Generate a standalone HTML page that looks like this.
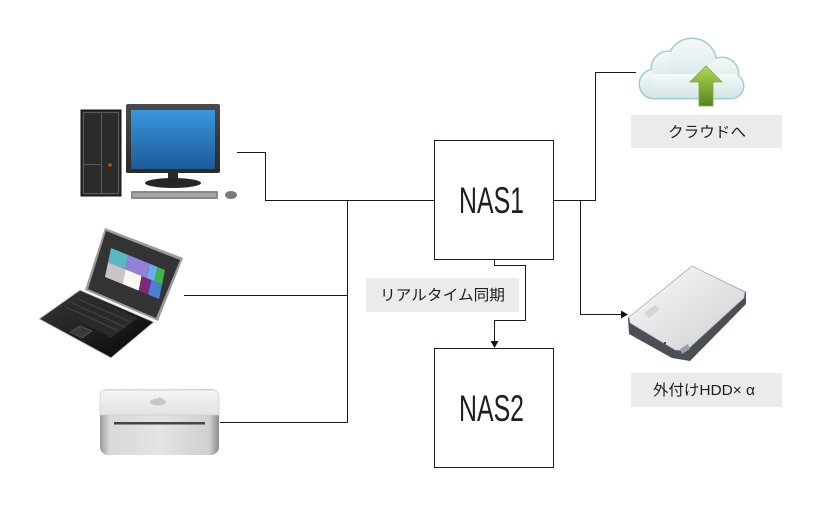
<!DOCTYPE html>
<html><head><meta charset="utf-8"><style>
html,body{margin:0;padding:0;background:#fff;}
svg{display:block;}
text{font-family:"Liberation Sans","Noto Sans CJK JP",sans-serif;fill:#1e1e1e;}
</style></head><body>
<svg width="821" height="508" viewBox="0 0 821 508" xmlns="http://www.w3.org/2000/svg">
<defs>
<linearGradient id="scr" x1="0" y1="0" x2="0" y2="1"><stop offset="0" stop-color="#3a95dc"/><stop offset="1" stop-color="#1c5c98"/></linearGradient>
<linearGradient id="mon" x1="0" y1="0" x2="0" y2="1"><stop offset="0" stop-color="#4a4a4a"/><stop offset="1" stop-color="#2a2a2a"/></linearGradient>
<linearGradient id="lapbase" x1="0" y1="0" x2="1" y2="1"><stop offset="0" stop-color="#3a3a3a"/><stop offset="1" stop-color="#050505"/></linearGradient>
<linearGradient id="mactop" x1="0" y1="0" x2="0" y2="1"><stop offset="0" stop-color="#f6f6f6"/><stop offset="1" stop-color="#e2e2e2"/></linearGradient>
<linearGradient id="macfront" x1="0" y1="0" x2="1" y2="0"><stop offset="0" stop-color="#9a9a9a"/><stop offset="0.08" stop-color="#d8d8d8"/><stop offset="0.5" stop-color="#e4e4e4"/><stop offset="0.92" stop-color="#d0d0d0"/><stop offset="1" stop-color="#8a8a8a"/></linearGradient>
<linearGradient id="cloud" x1="0" y1="0" x2="0" y2="1"><stop offset="0" stop-color="#f5f9f9"/><stop offset="1" stop-color="#d3e5e7"/></linearGradient>
<linearGradient id="arr" x1="0" y1="0" x2="0" y2="1"><stop offset="0" stop-color="#b2d855"/><stop offset="1" stop-color="#55861c"/></linearGradient>
<linearGradient id="hddtop" x1="0" y1="0" x2="1" y2="1"><stop offset="0" stop-color="#fafafa"/><stop offset="1" stop-color="#cfcfd2"/></linearGradient>
</defs>

<!-- connectors -->
<g fill="none" stroke="#1a1a1a" stroke-width="1">
<path d="M237 152.5H265.5V200.5H434"/>
<path d="M347.5 200.5V422.5"/>
<path d="M184 295.5H347.5"/>
<path d="M220 422.5H347.5"/>
<path d="M554 200.5H595.5V72.5H636"/>
<path d="M580.5 200.5V314.5H622"/>
<path d="M494.5 260V265.5H525.5V320.5H494.5V341"/>
</g>
<polygon points="628,314.5 621,310.5 621,318.5" fill="#111"/>
<polygon points="494.5,348 490.5,341 498.5,341" fill="#111"/>

<!-- NAS boxes -->
<rect x="434.5" y="140.5" width="119" height="119" fill="#fff" stroke="#1b1b40" stroke-width="1"/>
<rect x="434.5" y="348.5" width="119" height="119" fill="#fff" stroke="#1b1b40" stroke-width="1"/>
<text x="459" y="213" font-size="37" textLength="65" lengthAdjust="spacingAndGlyphs">NAS1</text>
<text x="459" y="421" font-size="37" textLength="65" lengthAdjust="spacingAndGlyphs">NAS2</text>

<!-- labels -->
<rect x="366" y="278" width="153" height="34" fill="#ebebeb"/>
<text x="380" y="300" font-size="15" textLength="125" lengthAdjust="spacingAndGlyphs">リアルタイム同期</text>
<rect x="631" y="115" width="151" height="33" fill="#ebebeb"/>
<text x="668" y="137" font-size="15" textLength="78" lengthAdjust="spacingAndGlyphs">クラウドへ</text>
<rect x="631" y="373" width="151" height="34" fill="#ebebeb"/>
<text x="653" y="395" font-size="15" textLength="102" lengthAdjust="spacingAndGlyphs">外付けHDD× α</text>

<!-- PC -->
<rect x="81" y="110" width="40" height="86" fill="#2b2b2b" stroke="#111" stroke-width="1"/>
<rect x="83.5" y="112.5" width="35" height="81" fill="none" stroke="#5a5a5a" stroke-width="1"/>
<line x1="101.5" y1="113" x2="101.5" y2="193" stroke="#5a5a5a"/>
<line x1="84" y1="164.5" x2="101" y2="164.5" stroke="#5a5a5a"/>
<circle cx="110" cy="165" r="2.5" fill="#c04010" stroke="#222" stroke-width="1"/>
<rect x="126" y="104" width="94" height="69" rx="2" fill="url(#mon)"/>
<rect x="131" y="110" width="84" height="59" fill="url(#scr)"/>
<rect x="168" y="172" width="10" height="8" fill="#2a2a2a"/>
<ellipse cx="173" cy="183" rx="28" ry="5" fill="#262626"/>
<rect x="131" y="191" width="87" height="8" rx="1" fill="#8a8a8a"/>
<rect x="133" y="193" width="83" height="4" fill="#a8a8a8"/>
<ellipse cx="231" cy="195" rx="6" ry="4" fill="#7a7a7a"/>

<!-- Laptop -->
<polygon points="39,319 80,290 154,322 111,358" fill="url(#lapbase)" stroke="#cfcfcf" stroke-width="1"/>
<polygon points="60,310 86,295 138,318 111,338" fill="#2a2a2a"/>
<g stroke="#444" stroke-width="1">
<line x1="66" y1="307" x2="119" y2="331"/>
<line x1="72" y1="303" x2="125" y2="327"/>
<line x1="78" y1="299" x2="131" y2="322"/>
</g>
<polygon points="70,332 80,326 92,331 82,338" fill="#3a3a3a" stroke="#555" stroke-width="0.8"/>
<polygon points="105,228 183,258 158,321 85,290" fill="#9a9a9a"/>
<polygon points="106,231 180,260 156,318 88,289" fill="#333"/>
<g>
<polygon points="111,248 128.3,255 125.4,269.4 108,262.4" fill="#5ab8c0"/>
<polygon points="128.3,255 149.9,263.8 146.9,278.2 125.4,269.4" fill="#9281d6"/>
<polygon points="149.9,263.8 157.4,266.9 154.5,281.2 146.9,278.2" fill="#6aaef0"/>
<polygon points="157.4,266.9 165,270 162.1,284.4 154.5,281.2" fill="#3db54a"/>
<polygon points="108,262.4 125.4,269.4 122.4,284 105,277" fill="#cdc3c6"/>
<polygon points="125.4,269.4 141.6,276 138.7,290.6 122.4,284" fill="#f4f8ef"/>
<polygon points="141.6,276 151.3,280 148.3,294.6 138.7,290.6" fill="#7b2a7a"/>
<polygon points="151.3,280 162.1,284.4 159.1,299 148.3,294.6" fill="#4a7ed8"/>
</g>

<!-- Mac mini -->
<rect x="100" y="389" width="119" height="66" rx="8" fill="url(#macfront)"/>
<path d="M106 390H213Q219 390 219 398V415H100V398Q100 390 106 390Z" fill="url(#mactop)" stroke="#d0d0d0" stroke-width="0.8"/>
<rect x="114" y="422" width="91" height="2.5" fill="#444"/>
<ellipse cx="158" cy="402" rx="8" ry="3.5" fill="#c8c8c8"/>
<ellipse cx="160" cy="398.5" rx="1.5" ry="1.2" fill="#c8c8c8"/>

<!-- Cloud -->
<g fill="url(#cloud)" stroke="#a6cdd0" stroke-width="3">
<circle cx="654" cy="84" r="14"/>
<circle cx="668" cy="68" r="16"/>
<circle cx="692" cy="63" r="24"/>
<circle cx="722" cy="74" r="16"/>
<circle cx="731" cy="86" r="12"/>
<rect x="654" y="74" width="77" height="24"/>
</g>
<g fill="url(#cloud)">
<circle cx="654" cy="84" r="14"/>
<circle cx="668" cy="68" r="16"/>
<circle cx="692" cy="63" r="24"/>
<circle cx="722" cy="74" r="16"/>
<circle cx="731" cy="86" r="12"/>
<rect x="654" y="74" width="77" height="24"/>
</g>
<polygon points="706,66 722,82 713,82 713,106 699,106 699,82 690,82" fill="url(#arr)" stroke="#7da83c" stroke-width="0.8"/>

<!-- HDD -->
<polygon points="628,318 692,266 746,292 746,304 690,361 672,358 629,334" fill="#4b4e57"/>
<polygon points="629,317 692,266 745,292 744,298 686,351 675,350 630,323" fill="url(#hddtop)" stroke="#9a9aa0" stroke-width="0.6"/>
<polygon points="644,313 655,305 660,309 649,318" fill="#d6d6d6"/>
<polygon points="680,349 688,344 690,349 682,354" fill="#9aa0aa"/>
<circle cx="665" cy="343" r="1" fill="#222"/>
</svg>
</body></html>
